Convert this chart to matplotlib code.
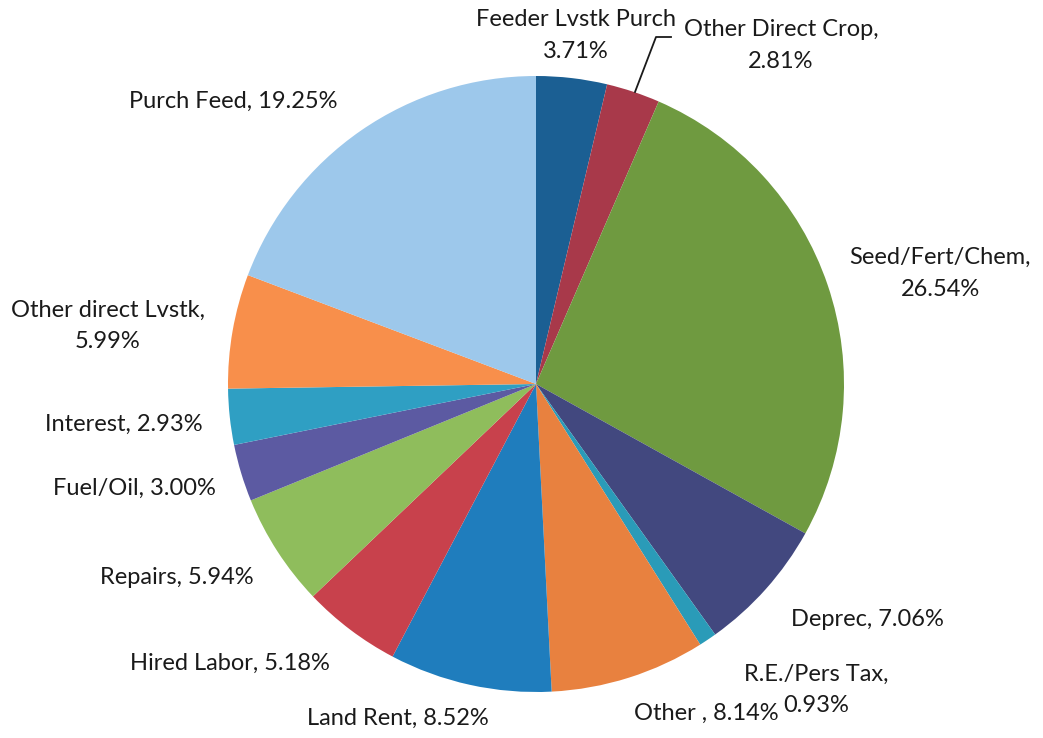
import matplotlib.pyplot as plt

# slices, clockwise from 12 o'clock
categories = ['Feeder Lvstk Purch', 'Other Direct Crop', 'Seed/Fert/Chem', 'Deprec',
              'R.E./Pers Tax', 'Other', 'Land Rent', 'Hired Labor', 'Repairs',
              'Fuel/Oil', 'Interest', 'Other direct Lvstk', 'Purch Feed']
shares = [3.71, 2.81, 26.54, 7.06, 0.93, 8.14, 8.52, 5.18, 5.94, 3.00, 2.93, 5.99, 19.25]
colors = ['#1b5f93', '#a8394a', '#6f9a40', '#42487f', '#2a9bb8', '#e8813f', '#1f7dbd',
          '#c8414c', '#8fbd5c', '#5c5aa2', '#2f9fc3', '#f88f4b', '#9dc8eb']

# label text as printed on the chart
label_text = ['Feeder Lvstk Purch\n3.71%', 'Other Direct Crop,\n2.81%', 'Seed/Fert/Chem,\n26.54%',
              'Deprec, 7.06%', 'R.E./Pers Tax,\n0.93%', 'Other , 8.14%', 'Land Rent, 8.52%',
              'Hired Labor, 5.18%', 'Repairs, 5.94%', 'Fuel/Oil, 3.00%', 'Interest, 2.93%',
              'Other direct Lvstk,\n5.99%', 'Purch Feed, 19.25%']
# label centres in pixels (x, y from top)
label_pos = [(576, 36), (781, 46), (940, 273), (867, 620), (816, 690), (706, 713),
             (398, 718), (230, 663), (177, 577), (134, 488), (124, 424), (108, 326),
             (233, 101)]

W, H = 1043, 738
LINE = 32  # pixel gap between the two lines of a label

fig = plt.figure(figsize=(W / 100, H / 100), dpi=100)
ax = fig.add_axes([0, 0, 1, 1])

ax.pie(shares, colors=colors, startangle=90, counterclock=False,
       center=(536, H - 384), radius=308, frame=True,
       wedgeprops=dict(linewidth=0))
ax.set_xlim(0, W)
ax.set_ylim(0, H)
ax.set_aspect('equal')
ax.axis('off')

for txt, (x, y) in zip(label_text, label_pos):
    lines = txt.split('\n')
    y0 = y - (len(lines) - 1) * LINE / 2
    for i, line in enumerate(lines):
        ax.text(x, H - (y0 + i * LINE), line, ha='center', va='center', fontsize=17,
                family='Lato', color='#1a1a1a')

# leader line for the small crop slice
ax.plot([635, 656, 671], [H - 92, H - 37, H - 37], color='#1a1a1a', lw=1.3)

fig.savefig('out.png', dpi=100, facecolor='white')
